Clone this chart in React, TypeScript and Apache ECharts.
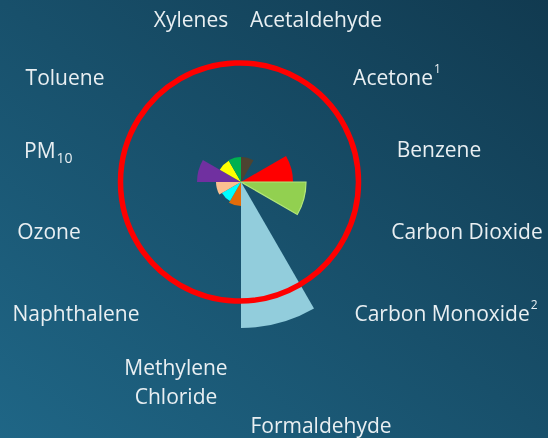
import React, { useEffect, useRef } from "react";
import * as echarts from "echarts";

const categories = [
  "Acetaldehyde",
  "Acetone",
  "Benzene",
  "Carbon Dioxide",
  "Carbon Monoxide",
  "Formaldehyde",
  "Methylene Chloride",
  "Naphthalene",
  "Ozone",
  "PM10",
  "Toluene",
  "Xylenes",
];

const values = [25, 0, 52, 65, 0, 146, 24, 22, 25, 44, 24.5, 25];

const colors = [
  "#4d4331",
  "#c0504d",
  "#ff0000",
  "#92d050",
  "#7f7f7f",
  "#92cddc",
  "#e36c09",
  "#00ffff",
  "#fac090",
  "#7030a0",
  "#ffff00",
  "#00b050",
];

// Label rich-text strings (with superscripts / subscripts)
const labelTexts = [
  "Acetaldehyde",
  "Acetone{sup|1}",
  "Benzene",
  "Carbon Dioxide",
  "Carbon Monoxide{sup|2}",
  "Formaldehyde",
  "Methylene\nChloride",
  "Naphthalene",
  "Ozone",
  "PM{sub|10}",
  "Toluene",
  "Xylenes",
];

// label anchor positions (layout only)
const labelPos: [number, number, string][] = [
  [316, 19, "center"],
  [397, 77, "center"],
  [439, 149, "center"],
  [467, 231, "center"],
  [446, 313, "center"],
  [321, 425, "center"],
  [176, 381, "center"],
  [76, 313, "center"],
  [49, 231, "center"],
  [24, 150, "left"],
  [65, 77, "center"],
  [191, 19, "center"],
];

export default function App() {
  const ref = useRef<HTMLDivElement>(null);
  useEffect(() => {
    if (!ref.current) return;
    const chart = echarts.init(ref.current, null, { renderer: "svg" });
    const font = '"Open Sans", sans-serif';
    const textColor = "#e9eff2";
    const labelGraphics = labelTexts.map((t, i) => ({
      type: "text",
      z: 20,
      x: labelPos[i][0],
      y: labelPos[i][1],
      style: {
        text: t,
        fill: textColor,
        fontFamily: font,
        fontSize: 21,
        lineHeight: 29,
        align: labelPos[i][2],
        verticalAlign: "middle",
        rich: {
          sup: {
            fontSize: 12,
            fill: textColor,
            fontFamily: font,
            lineHeight: 26,
            verticalAlign: "top",
            padding: [0, 0, 0, 1],
          },
          sub: {
            fontSize: 14,
            fill: textColor,
            fontFamily: font,
            lineHeight: 14,
            verticalAlign: "bottom",
            padding: [0, 0, 0, 1],
          },
        },
      },
    }));
    chart.setOption({
      animation: false,
      graphic: [
        {
          type: "rect",
          z: -10,
          shape: { x: 0, y: 0, width: 548, height: 438 },
          style: {
            fill: new echarts.graphic.LinearGradient(1, 0, 0, 1, [
              { offset: 0, color: "#113a50" },
              { offset: 1, color: "#1f6686" },
            ]),
          },
          silent: true,
        },
        {
          type: "circle",
          z: 15,
          shape: { cx: 239.5, cy: 182, r: 119 },
          style: { fill: "none", stroke: "#ff0000", lineWidth: 5.5 },
          silent: true,
        },
        ...labelGraphics,
      ],
      polar: { center: [241, 182], radius: 150 },
      angleAxis: {
        type: "category",
        data: categories,
        startAngle: 90,
        clockwise: true,
        axisLine: { show: false },
        axisTick: { show: false },
        axisLabel: { show: false },
        splitLine: { show: false },
      },
      radiusAxis: {
        type: "value",
        min: 0,
        max: 150,
        axisLine: { show: false },
        axisTick: { show: false },
        axisLabel: { show: false },
        splitLine: { show: false },
      },
      series: [
        {
          type: "bar",
          coordinateSystem: "polar",
          barCategoryGap: "0%",
          data: values.map((v, i) => ({
            value: v,
            itemStyle: {
              color: colors[i],
              borderColor: i === 3 ? "#b2e67a" : colors[i],
              borderWidth: i === 3 ? 1.2 : 0,
            },
          })),
        },
      ],
    });
    return () => chart.dispose();
  }, []);
  return (
    <div
      ref={ref}
      style={{ position: "fixed", left: 0, top: 0, width: 548, height: 438 }}
    />
  );
}
